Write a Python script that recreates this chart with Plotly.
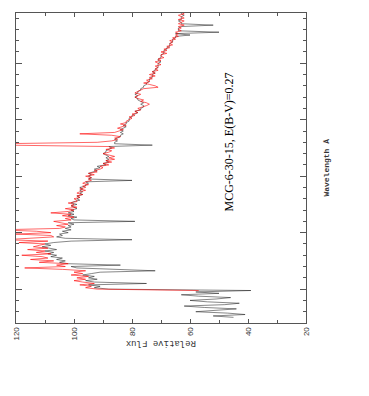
import numpy as np
import plotly.graph_objects as go

# black spectrum, 25 A steps from 3500 A
black_start = 3500
black_flux = [
    45, 52, 41, 47, 58, 50, 44, 55,
    62, 48, 43, 54, 60, 51, 46, 57,
    63, 50, 58, 39, 88, 93, 91,
    95, 75, 93, 96, 92, 95, 93, 97,
    94, 91, 72, 90, 99, 101, 84, 102,
    105, 103, 106, 104, 108, 106, 109, 107,
    110, 106, 109, 111, 108, 110, 107, 101,
    80, 103, 106, 104, 105, 102, 104, 101,
    103, 101, 102, 100, 102, 79, 100, 101,
    99, 102, 100, 102, 100, 101, 99, 100,
    101, 99, 101, 100, 98, 99, 98, 99,
    97, 98, 97, 98, 97, 98, 96, 96,
    95, 96, 80, 95, 94, 95, 94, 95,
    93, 92, 93, 91, 92, 89, 90, 88,
    89, 88, 89, 88, 89, 90, 89, 89,
    88, 87, 88, 73, 86, 86, 85, 86,
    85, 84, 84, 83, 84, 83, 84, 83,
    82, 83, 82, 82, 81, 81, 81, 80,
    80, 79, 78, 79, 77, 77, 76, 76,
    77, 76, 77, 78, 78, 79, 78, 79,
    78, 78, 77, 77, 76, 76, 75, 75,
    74, 74, 74, 73, 73, 73, 72, 73,
    72, 72, 71, 71, 71, 71, 70, 71,
    71, 70, 70, 70, 69, 69, 69, 68,
    68, 67, 67, 67, 66, 66, 66, 65,
    65, 60, 65, 50, 64, 64, 64, 63,
    52, 63, 63, 64, 63, 63, 63, 62,
    63, 63,
]

# red spectrum, 25 A steps from 3975 A
red_start = 3975
red_flux = [
    57, 92, 96, 94, 98, 93, 97, 100,
    96, 99, 95, 101, 97, 100, 96, 104,
    117, 103, 106, 102, 112, 107, 115, 109,
    111, 118, 108, 113, 110, 116, 109, 114,
    112, 110, 119, 109, 124, 116, 107, 108,
    120, 108, 113, 126, 105, 103, 106, 102,
    104, 107, 101, 103, 100, 104, 101, 108,
    102, 100, 103, 99, 101, 100, 102, 99,
    99, 100, 98, 99, 97, 99, 98, 96,
    98, 96, 97, 95, 97, 96, 94, 95,
    94, 96, 93, 95, 92, 93, 91, 90,
    91, 88, 90, 87, 89, 86, 88, 86,
    88, 90, 88, 87, 89, 86, 88, 123,
    125, 92, 87, 85, 86, 84, 87, 98,
    86, 84, 83, 85, 83, 82, 84, 82,
    82, 81, 80, 81, 79, 80, 78, 79,
    77, 78, 76, 75, 74, 75, 77, 76,
    78, 79, 78, 77, 79, 78, 77, 76,
    71, 72, 74, 76, 74, 75, 73, 74,
    72, 74, 72, 73, 71, 72, 71, 72,
    70, 71, 72, 70, 71, 69, 70, 70,
    68, 70, 68, 69, 67, 68, 66, 67,
    66, 67, 65, 66, 64, 65, 64, 65,
    63, 64, 63, 64, 62, 64, 63, 62,
    64, 62, 63, 64, 62, 63,
]

flux_ticks = [20, 40, 60, 80, 100, 120]
label_text = "MCG-6-30-15, E(B-V)=0.27"

black_wave = black_start + 25 * np.arange(len(black_flux))
red_wave = red_start + 25 * np.arange(len(red_flux))

fig = go.Figure()
fig.add_trace(go.Scatter(x=black_flux, y=black_wave, mode="lines",
                         line=dict(color="#111111", width=0.5)))
fig.add_trace(go.Scatter(x=red_flux, y=red_wave, mode="lines",
                         line=dict(color="red", width=0.6)))

axcol = "#555555"
fig.update_xaxes(range=[120, 20], tickvals=flux_ticks, ticktext=[str(v) for v in flux_ticks],
                 tickangle=-90, ticks="inside", ticklen=4, tickcolor=axcol,
                 minor=dict(dtick=10, tick0=0, ticks="inside", ticklen=3, tickcolor=axcol),
                 showline=True, linecolor=axcol, linewidth=1, mirror="ticks",
                 showgrid=False, zeroline=False,
                 tickfont=dict(family="Liberation Sans", size=8, color="#333333"))
fig.update_yaxes(range=[3400, 8890], dtick=1000, tick0=0, side="right",
                 showticklabels=False, ticks="inside", ticklen=6, tickcolor=axcol,
                 minor=dict(dtick=200, tick0=0, ticks="inside", ticklen=3, tickcolor=axcol),
                 showline=True, linecolor=axcol, linewidth=1, mirror="ticks",
                 showgrid=False, zeroline=False)

fig.add_annotation(text="Relative Flux", xref="paper", yref="paper", x=0.5, y=-0.085,
                   textangle=180, showarrow=False,
                   font=dict(family="Liberation Mono", size=9, color="#333333"))
fig.add_annotation(text="<b>Wavelength Å</b>", xref="paper", yref="paper", x=1.09, y=0.5,
                   textangle=-90, showarrow=False,
                   font=dict(family="Liberation Mono", size=8, color="#333333"))
fig.add_annotation(text=label_text, xref="paper", yref="paper", x=0.765, y=0.585,
                   textangle=-90, showarrow=False,
                   font=dict(family="Liberation Serif", size=12, color="black"))

# page body adds 8px margin, so the figure is shifted down/right by 8px
fig.update_layout(width=355, height=380, showlegend=False,
                  margin=dict(l=5, r=57, t=4, b=65),
                  plot_bgcolor="white", paper_bgcolor="white")
fig.write_html("out.html")
